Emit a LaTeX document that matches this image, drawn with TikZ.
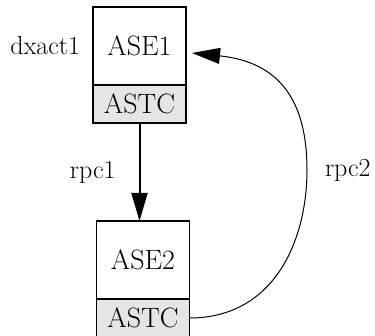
\documentclass[tikz,border=0pt]{standalone}
\usetikzlibrary{positioning}
\usetikzlibrary{arrows.meta}

\begin{document}
\begin{tikzpicture}[x=1pt,y=1pt]
    \tikzstyle{every node}=[font=\fontsize{28}{30}\selectfont,outer sep=0pt]
    \tikzstyle{asebox}=[draw=black,line width=1.8pt,minimum width=93pt,minimum height=78pt]
    \tikzstyle{astcbox}=[draw=black,line width=1.8pt,fill=gray!20,minimum width=93pt,minimum height=38pt]
    \tikzstyle{lbl}=[inner sep=0pt,font=\fontsize{26}{28}\selectfont]
    \tikzstyle{tip}=[-{Triangle[length=28pt,width=16pt]}]

    \useasboundingbox (0,0) rectangle (375,335);

    \node[asebox] (ase1) at (139.5,289) {ASE1} ;
    \node[astcbox,below=0pt of ase1] (astc1) {ASTC} ;
    \node[lbl,left=13pt of ase1] (dxact) {dxact1} ;

    \node[asebox] (ase2) at (143,75) {ASE2} ;
    \node[astcbox,below=0pt of ase2] (astc2) {ASTC} ;

    \coordinate (bend) at (307,165) ;

    \draw[tip,line width=2pt] (astc1.south) -- (astc1.south |- ase2.north)
        node[lbl,midway,left=24pt] (rpcone) {rpc1} ;
    \draw[tip,line width=1pt] (astc2.east) .. controls +(85,0) and (307,95) .. (bend)
        node[lbl,right=18pt] (rpctwo) {rpc2}
        .. controls (307,235) and (279,273) .. ([xshift=6pt,yshift=-7pt]ase1.east) ;

\end{tikzpicture}
\end{document}
